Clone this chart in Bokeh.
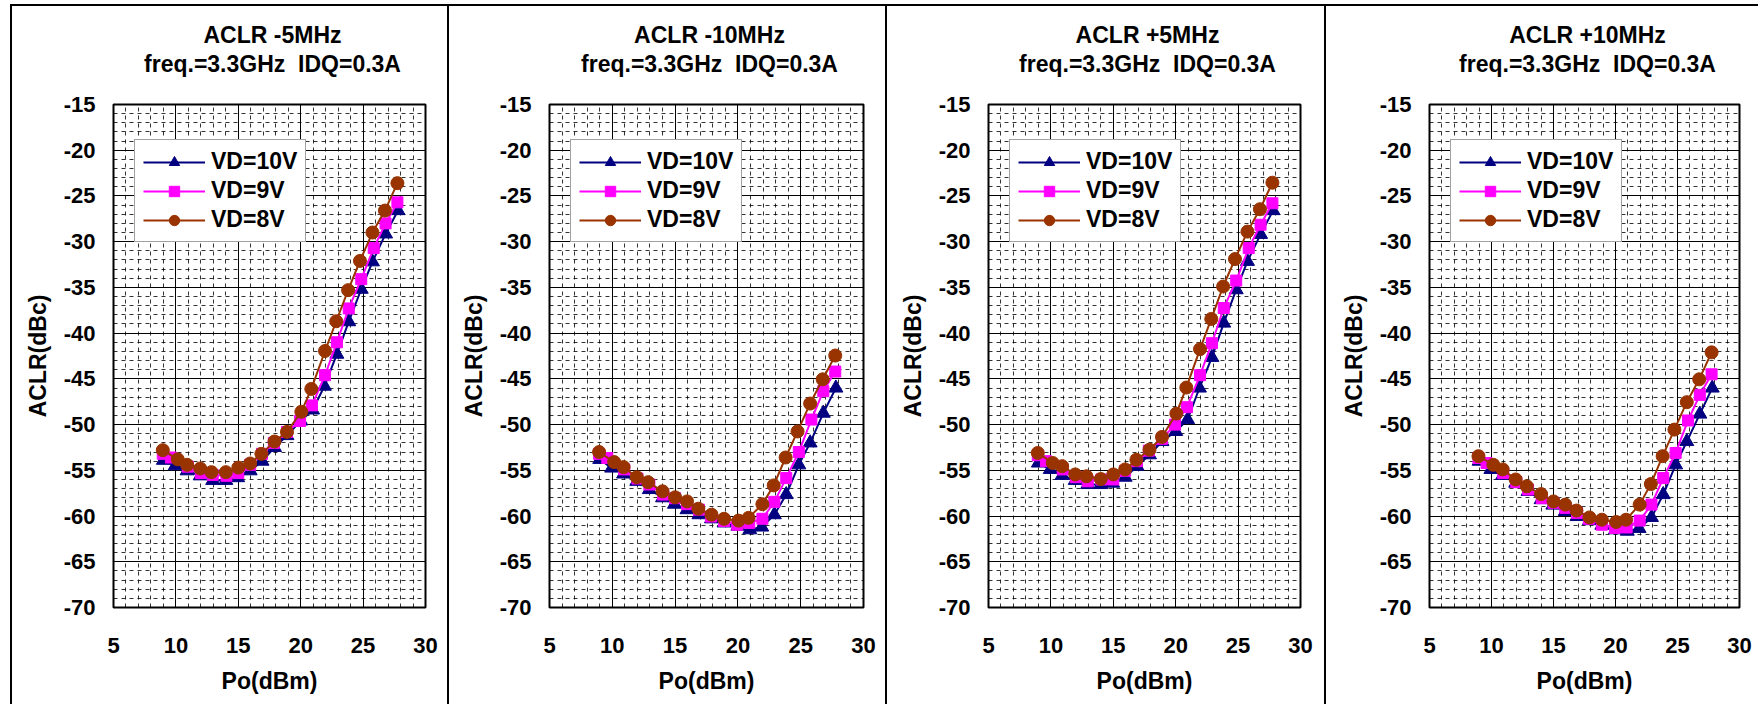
from bokeh.plotting import figure
from bokeh.layouts import row, column
from bokeh.models import SingleIntervalTicker, Legend, LegendItem, Range1d, Spacer
from bokeh.core.properties import value
from bokeh.embed import file_html
from bokeh.resources import INLINE

FONT = "Liberation Sans"

# ---------------- data ----------------
titles = ["ACLR -5MHz", "ACLR -10MHz", "ACLR +5MHz", "ACLR +10MHz"]
subtitle = "freq.=3.3GHz\u00a0\u00a0IDQ=0.3A"
series_labels = ["VD=10V", "VD=9V", "VD=8V"]
x_ticks = [5, 10, 15, 20, 25, 30]
y_ticks = [-70, -65, -60, -55, -50, -45, -40, -35, -30, -25, -20, -15]

# Po (dBm) for each VD
x_10v = [9.0, 9.95, 10.9, 11.95, 12.95, 14.0, 14.95, 15.95, 16.9, 17.9,
         18.9, 20.0, 20.95, 21.9, 22.9, 23.85, 24.85, 25.75, 26.8, 27.8]
x_9v = [8.95, 9.6, 10.95, 12.0, 12.95, 14.05, 15.0, 15.95, 16.9, 17.85,
        18.9, 19.95, 20.9, 21.95, 22.9, 23.85, 24.85, 25.85, 26.8, 27.75]
x_8v = [8.95, 10.15, 10.9, 11.95, 12.85, 14.0, 15.0, 15.95, 16.85, 17.9,
        18.9, 20.05, 20.85, 21.95, 22.85, 23.8, 24.75, 25.75, 26.75, 27.75]

# ACLR -5MHz
m5_10v = [-53.9, -54.5, -55.05, -55.6, -56.1, -56.1, -55.8, -55.05, -54.0, -52.5,
          -51.2, -49.6, -48.4, -45.8, -42.3, -38.75, -35.2, -32.2, -29.15, -26.6]
m5_9v = [-53.2, -53.6, -54.6, -55.3, -55.5, -55.6, -55.3, -54.4, -53.2, -52.0,
         -50.8, -49.6, -47.9, -44.6, -41.0, -37.3, -34.1, -30.7, -28.0, -25.7]
m5_8v = [-52.8, -53.8, -54.4, -54.8, -55.2, -55.2, -54.7, -54.25, -53.2, -51.85,
         -50.8, -48.6, -46.1, -41.95, -38.7, -35.3, -32.1, -29.0, -26.6, -23.6]
# ACLR -10MHz
m10_10v = [-53.8, -54.75, -55.4, -56.2, -57.1, -58.0, -58.7, -59.3, -59.85, -60.3,
           -60.75, -61.1, -61.5, -61.2, -59.85, -57.65, -54.4, -52.0, -48.75, -46.0]
m10_9v = [-53.2, -53.65, -54.9, -55.9, -56.55, -57.65, -58.05, -58.7, -59.3, -60.05,
          -60.55, -60.95, -60.75, -60.3, -58.45, -55.85, -53.0, -49.45, -46.35, -44.2]
m10_8v = [-53.0, -54.1, -54.65, -55.75, -56.3, -57.3, -57.95, -58.4, -59.2, -59.85,
          -60.3, -60.5, -60.2, -58.7, -56.65, -53.6, -50.75, -47.7, -45.05, -42.45]
# ACLR +5MHz
p5_10v = [-54.2, -54.9, -55.55, -56.1, -56.55, -56.55, -56.4, -55.75, -54.55, -53.3,
          -51.85, -50.75, -49.45, -46.0, -42.65, -38.9, -35.25, -32.15, -29.2, -26.6]
p5_9v = [-53.35, -54.0, -54.9, -55.75, -56.2, -56.0, -56.0, -55.05, -54.0, -52.85,
         -51.55, -50.0, -48.1, -44.6, -41.1, -37.25, -34.25, -30.7, -28.15, -25.8]
p5_8v = [-53.1, -54.2, -54.55, -55.45, -55.65, -55.95, -55.45, -54.9, -53.85, -52.75,
         -51.35, -48.8, -45.95, -41.75, -38.45, -34.9, -31.9, -28.9, -26.45, -23.55]
# ACLR +10MHz
p10_10v = [-54.0, -54.9, -55.55, -56.4, -57.3, -58.2, -58.8, -59.5, -60.05, -60.5,
           -61.0, -61.5, -61.65, -61.35, -60.15, -57.65, -54.4, -51.85, -48.85, -46.0]
p10_9v = [-53.65, -54.2, -55.3, -56.3, -57.1, -58.05, -58.55, -59.1, -59.65, -60.3,
          -60.95, -61.3, -61.25, -60.5, -58.75, -55.85, -53.1, -49.55, -46.75, -44.5]
p10_8v = [-53.45, -54.4, -54.9, -56.0, -56.75, -57.6, -58.4, -58.75, -59.4, -60.15,
          -60.4, -60.65, -60.4, -58.75, -56.5, -53.45, -50.55, -47.55, -45.05, -42.1]

panel_data = [
    (m5_10v, m5_9v, m5_8v),
    (m10_10v, m10_9v, m10_8v),
    (p5_10v, p5_9v, p5_8v),
    (p10_10v, p10_9v, p10_8v),
]
xs = [x_10v, x_9v, x_8v]

# ---------------- styles ----------------
colors = ["#000080", "#FF00FF", "#993300"]
markers = ["triangle", "square", "circle"]
msizes = [14, 11, 13]

# per-panel geometry: (min_border_left, frame_width, min_border_right)
geom = [(103, 312, 22), (102, 314, 22), (103, 312, 24), (105, 310, 19)]
HEAD = 80            # height of title strip
TOP, FH, BOT = 20, 503, 97

panels = []
for i in range(4):
    ml, fw, mr = geom[i]

    # ---- title strip (frame aligned with the chart frame below) ----
    h = figure(output_backend="svg", toolbar_location=None,
               frame_width=fw, frame_height=HEAD,
               min_border_left=ml, min_border_right=mr,
               min_border_top=0, min_border_bottom=0,
               x_range=Range1d(0, fw), y_range=Range1d(HEAD, 0),
               x_axis_type=None, y_axis_type=None, title_location=None)
    h.outline_line_color = None
    h.border_fill_color = None
    h.background_fill_color = None
    h.xgrid.visible = False
    h.ygrid.visible = False
    h.styles = {"box-shadow": "inset 2px 2px 0 0 #000000"}
    h.text(x=[fw / 2 + 3, fw / 2 + 3], y=[30, 59],
           text=[titles[i], subtitle], text_align="center", text_baseline="middle",
           text_font=value(FONT), text_font_style="bold",
           text_font_size="23px", text_color="black")

    # ---- chart ----
    p = figure(output_backend="svg", toolbar_location=None,
               x_range=Range1d(x_ticks[0], x_ticks[-1]),
               y_range=Range1d(y_ticks[0], y_ticks[-1]),
               frame_width=fw, frame_height=FH,
               min_border_left=ml, min_border_right=mr,
               min_border_top=TOP, min_border_bottom=BOT,
               title_location=None)
    p.border_fill_color = None
    p.background_fill_color = "white"
    p.outline_line_color = "black"
    p.outline_line_width = 2
    p.styles = {"box-shadow": "inset 2px 0 0 0 #000000"}

    p.xaxis.ticker = SingleIntervalTicker(interval=5, num_minor_ticks=5)
    p.yaxis.ticker = SingleIntervalTicker(interval=5, num_minor_ticks=5)
    p.yaxis.major_label_overrides = {v: str(v) for v in y_ticks}
    p.xaxis.major_label_overrides = {v: str(v) for v in x_ticks}
    for ax in (p.xaxis, p.yaxis):
        ax.axis_line_color = None
        ax.major_tick_line_color = None
        ax.minor_tick_line_color = None
        ax.major_tick_out = 0
        ax.major_tick_in = 0
        ax.minor_tick_out = 0
        ax.minor_tick_in = 0
        ax.major_label_text_font = FONT
        ax.major_label_text_font_style = "bold"
        ax.major_label_text_font_size = "22px"
        ax.major_label_text_color = "black"
        ax.axis_label_text_font = FONT
        ax.axis_label_text_font_style = "bold"
        ax.axis_label_text_font_size = "23px"
        ax.axis_label_text_color = "black"
    p.xaxis.axis_label = "Po(dBm)"
    p.yaxis.axis_label = "ACLR(dBc)"
    p.xaxis.major_label_standoff = 30
    p.xaxis.axis_label_standoff = 12
    p.yaxis.major_label_standoff = 18
    p.yaxis.axis_label_standoff = 10

    for g in (p.xgrid, p.ygrid):
        g.grid_line_color = "black"
        g.grid_line_width = 1
        g.minor_grid_line_color = "black"
        g.minor_grid_line_width = 1
        g.minor_grid_line_alpha = 0.8
        g.minor_grid_line_dash = "4 4"

    items = []
    for k in range(3):
        ys = panel_data[i][k]
        lr = p.line(xs[k], ys, line_color=colors[k], line_width=2)
        sr = p.scatter(xs[k], ys, marker=markers[k], size=msizes[k],
                       fill_color=colors[k], line_color=colors[k])
        items.append(LegendItem(label=series_labels[k], renderers=[lr, sr]))

    legend = Legend(items=items, location=(21, FH - 40 - 98),
                    label_text_font=FONT, label_text_font_style="bold",
                    label_text_font_size="23px", label_text_color="black",
                    glyph_width=62, glyph_height=26, label_height=26,
                    label_standoff=6, spacing=2, padding=8, margin=0,
                    border_line_color="#444444", border_line_width=1,
                    background_fill_color="white", background_fill_alpha=1)
    p.add_layout(legend, "center")
    panels.append(column(h, p, spacing=0))

layout = column(Spacer(height=4), row(Spacer(width=10), *panels, spacing=0), spacing=0)
open("out.html", "w").write(file_html(layout, INLINE))
